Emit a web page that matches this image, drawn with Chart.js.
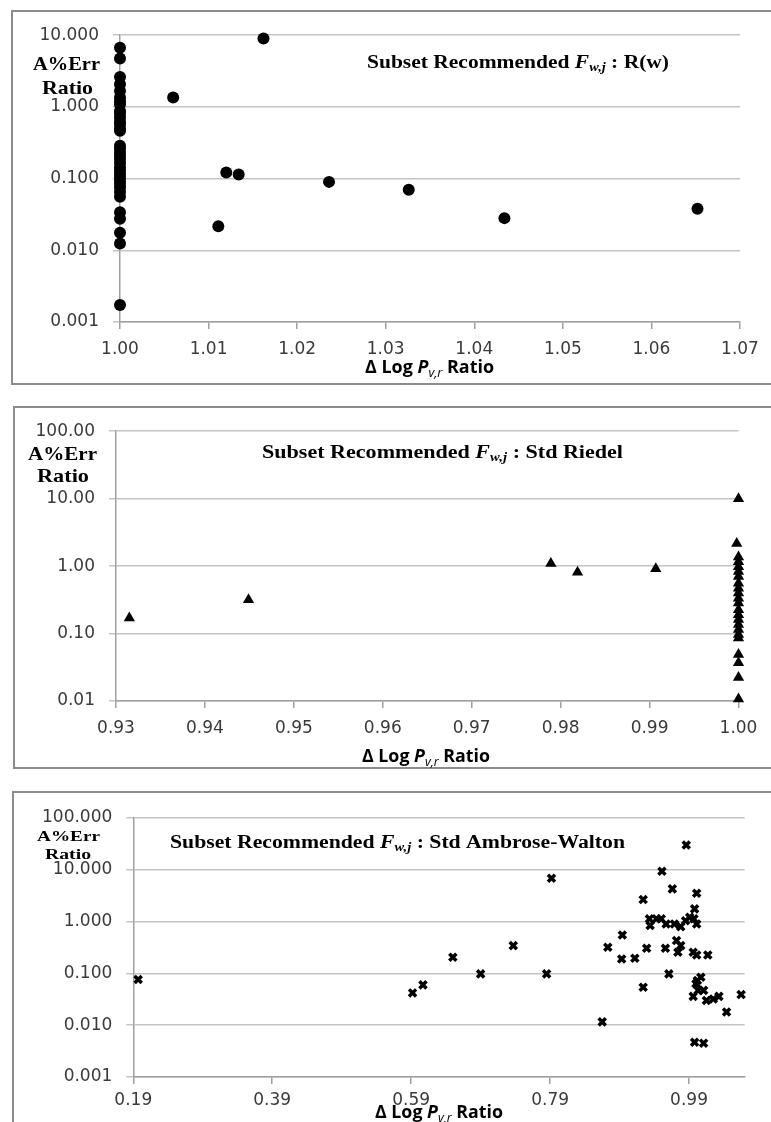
<!DOCTYPE html>
<html>
<head>
<meta charset="utf-8">
<script src="https://cdn.jsdelivr.net/npm/chart.js@4.4.1/dist/chart.umd.min.js"></script>
<style>
  body { margin: 0; background: #fff; width: 771px; height: 1122px; overflow: hidden; position: relative; }
  .panel { position: absolute; border: 2px solid #8c8c8c; border-right: none; box-sizing: border-box; }
  canvas { position: absolute; }
</style>
</head>
<body>
<div class="panel" style="left:11px;top:10px;width:780px;height:375px"></div>
<div class="panel" style="left:13px;top:406px;width:780px;height:363px"></div>
<div class="panel" style="left:12px;top:791px;width:780px;height:400px"></div>
<canvas id="rw" width="759" height="372" style="left:12px;top:11px"></canvas>
<canvas id="riedel" width="757" height="361" style="left:14px;top:407px"></canvas>
<canvas id="aw" width="758" height="330" style="left:13px;top:792px"></canvas>
<script>
// panel 1: R(w)
const rwX = [1.000, 1.000, 1.000, 1.000, 1.000, 1.000, 1.000, 1.000, 1.000, 1.000, 1.000, 1.000, 1.000, 1.000,
  1.000, 1.000, 1.000, 1.000, 1.000, 1.000, 1.000, 1.000, 1.000, 1.000, 1.000, 1.000, 1.000, 1.000, 1.000,
  1.000, 1.000, 1.000, 1.000, 1.000, 1.000,
  1.0060, 1.0162, 1.0120, 1.0134, 1.0111, 1.0236, 1.0326, 1.0434, 1.0652];
const rwY = [6.66, 4.74, 2.61, 2.07, 1.67, 1.35, 1.20, 1.09, 0.88, 0.80, 0.71, 0.62, 0.574, 0.50,
  0.464, 0.287, 0.26, 0.232, 0.21, 0.188, 0.165, 0.144, 0.13, 0.116, 0.105, 0.094, 0.085, 0.076,
  0.065, 0.056, 0.034, 0.0275, 0.0176, 0.0124, 0.00172,
  1.35, 9.0, 0.122, 0.114, 0.0216, 0.090, 0.0697, 0.0281, 0.0379];
const rwXTicks = [1.00, 1.01, 1.02, 1.03, 1.04, 1.05, 1.06, 1.07];
const rwYTicks = [0.001, 0.01, 0.1, 1, 10];

// panel 2: Std Riedel
const riedelX = [0.9315, 0.9449, 0.9789, 0.9819, 0.9907,
  1.000, 0.9998, 1.000, 1.000, 1.000, 1.000, 1.000, 1.000, 1.000, 1.000, 1.000, 1.000,
  1.000, 1.000, 1.000, 1.000, 1.000, 1.000, 1.000, 1.000, 1.000, 1.000, 1.000];
const riedelY = [0.17, 0.316, 1.09, 0.81, 0.91,
  10.0, 2.16, 1.37, 1.16, 0.98, 0.83, 0.70, 0.556, 0.47, 0.40, 0.335, 0.283,
  0.225, 0.19, 0.161, 0.136, 0.115, 0.097, 0.086, 0.049, 0.037, 0.0223, 0.0107];
const riedelXTicks = [0.93, 0.94, 0.95, 0.96, 0.97, 0.98, 0.99, 1.00];
const riedelYTicks = [0.01, 0.1, 1, 10, 100];

// panel 3: Std Ambrose-Walton
const awX = [0.197, 0.592, 0.607, 0.650, 0.690, 0.737, 0.792, 0.785, 0.865, 0.873, 0.894, 0.893,
  0.912, 0.924, 0.924, 0.929, 0.933, 0.934, 0.943, 0.951, 0.950, 0.956, 0.961, 0.966, 0.957,
  0.969, 0.978, 0.972, 0.978, 0.974, 0.986, 0.985, 0.991, 0.997, 1.001, 0.998, 1.001, 0.996,
  1.001, 1.017, 1.007, 1.000, 0.996, 1.003, 1.011, 1.015, 1.025, 1.033, 1.044, 1.065, 0.998,
  1.011, 1.002];
const awY = [0.076, 0.042, 0.060, 0.205, 0.098, 0.344, 6.86, 0.098, 0.0116, 0.319, 0.553, 0.19,
  0.196, 2.66, 0.054, 0.305, 1.13, 0.84, 1.13, 9.35, 1.13, 0.305, 0.098, 4.28, 0.90,
  0.90, 0.80, 0.43, 0.344, 0.256, 30.2, 1.04, 1.21, 1.13, 3.52, 1.76, 0.90, 0.256,
  0.227, 0.227, 0.084, 0.063, 0.036, 0.047, 0.047, 0.030, 0.032, 0.036, 0.018, 0.039, 0.0047,
  0.0045, 0.073];
const awXTicks = [0.19, 0.39, 0.59, 0.79, 0.99];
const awYTicks = [0.001, 0.01, 0.1, 1, 10, 100];

const serif = '"Liberation Serif", "Times New Roman", serif';
const sans = '"Open Sans", "Liberation Sans", sans-serif';
const tickFont = { family: '"DejaVu Sans", sans-serif', size: 17 };

function richText(ctx, parts, left, right, cy) {
  ctx.save();
  let total = 0;
  parts.forEach((p) => {
    ctx.font = p.font;
    p.w = ctx.measureText(p.text).width;
    total += p.w;
  });
  ctx.translate(left, cy);
  ctx.scale((right - left) / total, 1);
  ctx.textBaseline = 'middle';
  ctx.fillStyle = '#000';
  let x = 0;
  parts.forEach((p) => {
    ctx.font = p.font;
    ctx.fillText(p.text, x, p.dy || 0);
    x += p.w;
  });
  ctx.restore();
}

function titleParts(suffix, size) {
  return [
    { text: 'Subset Recommended ', font: `bold ${size}px ${serif}` },
    { text: 'F', font: `bold italic ${size}px ${serif}` },
    { text: 'w,j', font: `bold italic ${Math.round(size * 0.68)}px ${serif}`, dy: size * 0.3 },
    { text: ' : ' + suffix, font: `bold ${size}px ${serif}` }
  ];
}

function xTitleParts(size) {
  return [
    { text: 'Δ Log ', font: `bold ${size}px ${sans}` },
    { text: 'P', font: `bold italic ${size}px ${sans}` },
    { text: 'v,r', font: `italic ${Math.round(size * 0.7)}px ${sans}`, dy: size * 0.3 },
    { text: ' Ratio', font: `bold ${size}px ${sans}` }
  ];
}

function makePanel(id, cfg) {
  const ctx = document.getElementById(id).getContext('2d');
  const points = cfg.xs.map((x, i) => ({ x, y: cfg.ys[i] }));
  return new Chart(ctx, {
    type: 'scatter',
    data: {
      datasets: [{
        data: points,
        pointStyle: cfg.pointStyle,
        pointRadius: cfg.radius,
        pointBorderWidth: cfg.borderWidth,
        pointBackgroundColor: '#000',
        pointBorderColor: '#000',
        clip: false
      }]
    },
    options: {
      responsive: false,
      animation: false,
      events: [],
      layout: { padding: { left: 0, top: cfg.top, right: cfg.right, bottom: 0 } },
      plugins: { legend: { display: false }, tooltip: { enabled: false } },
      scales: {
        x: {
          type: 'linear',
          min: cfg.xMin,
          max: cfg.xMax,
          afterBuildTicks: (scale) => { scale.ticks = cfg.xTicks.map((v) => ({ value: v })); },
          afterFit: (scale) => { scale.height = cfg.xHeight; },
          ticks: {
            autoSkip: false, maxRotation: 0, padding: cfg.xPad, color: '#3a3a3a', font: tickFont,
            callback: (v) => Number(v).toFixed(2)
          },
          grid: { drawOnChartArea: false, drawTicks: true, tickLength: 7, color: '#a0a0a0', lineWidth: 1.5 },
          border: { display: true, color: '#a0a0a0', width: 1.5 }
        },
        y: {
          type: 'logarithmic',
          min: cfg.yTicks[0],
          max: cfg.yTicks[cfg.yTicks.length - 1],
          afterBuildTicks: (scale) => { scale.ticks = cfg.yTicks.map((v) => ({ value: v })); },
          afterFit: (scale) => { scale.width = cfg.yWidth; },
          ticks: {
            autoSkip: false, padding: 14, color: '#3a3a3a', font: tickFont,
            callback: (v) => Number(v).toFixed(cfg.yDigits)
          },
          grid: { color: '#c4c4c4', lineWidth: 1.5, tickLength: 7 },
          border: { display: true, color: '#a0a0a0', width: 1.5 }
        }
      }
    },
    plugins: [{
      id: 'panelText',
      afterDraw(chart) {
        const c = chart.ctx;
        const t = cfg.text;
        richText(c, titleParts(t.suffix, 18), t.title[0], t.title[1], t.title[2]);
        richText(c, [{ text: 'A%Err', font: `bold ${t.ySize}px ${serif}` }], t.yErr[0], t.yErr[1], t.yErr[2]);
        richText(c, [{ text: 'Ratio', font: `bold ${t.ySize}px ${serif}` }], t.yRatio[0], t.yRatio[1], t.yRatio[2]);
        richText(c, xTitleParts(17), t.xTitle[0], t.xTitle[1], t.xTitle[2]);
      }
    }]
  });
}

makePanel('rw', {
  xs: rwX, ys: rwY, xTicks: rwXTicks, yTicks: rwYTicks, xMin: 1.00, xMax: 1.07, yDigits: 3,
  pointStyle: 'circle', radius: 6, borderWidth: 0,
  top: 23, right: 31, yWidth: 108, xHeight: 61, xPad: 10,
  text: {
    suffix: 'R(w)', title: [355, 657, 52], ySize: 19,
    yErr: [21, 88, 54], yRatio: [30, 81, 78], xTitle: [353, 482, 357]
  }
});

makePanel('riedel', {
  xs: riedelX, ys: riedelY, xTicks: riedelXTicks, yTicks: riedelYTicks, xMin: 0.93, xMax: 1.00, yDigits: 2,
  pointStyle: 'triangle', radius: 6.5, borderWidth: 0,
  top: 22, right: 32.5, yWidth: 102, xHeight: 67, xPad: 10,
  text: {
    suffix: 'Std Riedel', title: [248, 609, 46], ySize: 19,
    yErr: [14, 83, 48], yRatio: [23, 75, 70], xTitle: [348, 476, 350]
  }
});

makePanel('aw', {
  xs: awX, ys: awY, xTicks: awXTicks, yTicks: awYTicks, xMin: 0.19, xMax: 1.07, yDigits: 3,
  pointStyle: 'crossRot', radius: 5, borderWidth: 3.5,
  top: 26, right: 26.4, yWidth: 120.3, xHeight: 45, xPad: 6,
  text: {
    suffix: 'Std Ambrose-Walton', title: [157, 612, 51], ySize: 15,
    yErr: [24, 87, 45], yRatio: [32, 78, 63], xTitle: [362, 490, 321]
  }
});
</script>
</body>
</html>
